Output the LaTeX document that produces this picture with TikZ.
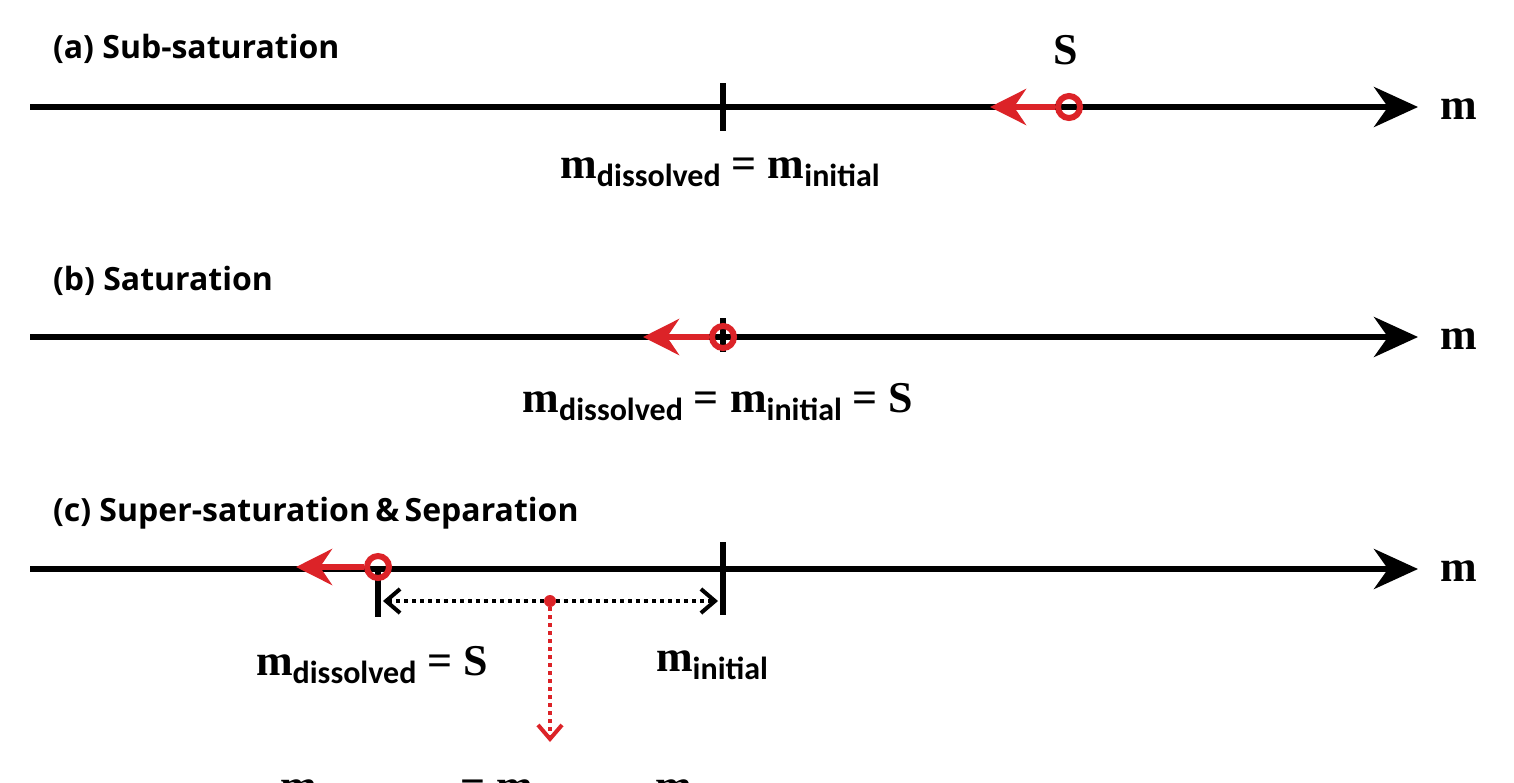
\documentclass[tikz,border=0pt]{standalone}
\usepackage{fontspec}
\setmainfont{Liberation Serif}
\newfontfamily\ttlfont{Open Sans}
\newfontfamily\subfont{Carlito}
\usetikzlibrary{arrows.meta}
\definecolor{rd}{RGB}{220,35,40}
\newcommand{\mm}[1]{\textbf{m}{\subfont\bfseries\fontsize{16}{16}\selectfont\raisebox{-0.25em}{#1}}}
\tikzset{
  axis/.style={line width=3pt,-{Stealth[length=22pt,width=20pt,inset=7pt]}},
  tick/.style={line width=3pt},
  ttl/.style={anchor=base west,font=\ttlfont\bfseries\fontsize{16}{16}\selectfont},
  lbl/.style={font=\bfseries\fontsize{22}{22}\selectfont},
  pt/.style={circle,draw=rd,line width=3pt,minimum size=11pt,inner sep=0pt},
  rarr/.style={draw=rd,line width=3pt,-{Stealth[length=18pt,width=18pt,inset=6pt]}},
}
\begin{document}
\begin{tikzpicture}[x=0.5pt,y=-0.5pt]
\clip (0,0) rectangle (1514,782);
\useasboundingbox (0,0) rectangle (1514,782);
% (a)
\node[ttl] (ta) at (46,58) {(a) Sub-saturation};
\coordinate (a0) at (30,107); \coordinate (a1) at (1418,107);
\draw[axis] (a0) -- (a1);
\node[lbl,anchor=west] (ma) at (1433,109) {m};
\coordinate (at1) at (723,83); \coordinate (at2) at (723,131);
\draw[tick] (at1) -- (at2);
\node[lbl] (la) at (720,172) {\mm{dissolved} = \mm{initial}};
\node[pt] (pa) at (1069,107) {};
\coordinate (ea) at (990,107);
\draw[rarr] (pa) -- (ea);
\node[lbl] (sa) at (1066,50) {S};
% (b)
\node[ttl] (tb) at (46,290) {(b) Saturation};
\coordinate (b0) at (30,337); \coordinate (b1) at (1418,337);
\draw[axis] (b0) -- (b1);
\node[lbl,anchor=west] (mb) at (1433,339) {m};
\coordinate (bt1) at (723,318); \coordinate (bt2) at (723,352);
\draw[tick] (bt1) -- (bt2);
\node[pt] (pb) at (723,337) {};
\coordinate (eb) at (643,337);
\draw[rarr] (pb) -- (eb);
\node[lbl] (lb) at (718,402) {\mm{dissolved} = \mm{initial} = S};
% (c)
\node[ttl] (tc) at (46,521) {(c) Super-saturation\,\&\,Separation};
\coordinate (c0) at (30,569); \coordinate (c1) at (1418,569);
\draw[axis] (c0) -- (c1);
\node[lbl,anchor=west] (mc) at (1433,571) {m};
\coordinate (ct1) at (723,542); \coordinate (ct2) at (723,615);
\draw[tick] (ct1) -- (ct2);
\coordinate (cs1) at (378,569); \coordinate (cs2) at (378,617);
\draw[tick] (cs1) -- (cs2);
\node[pt] (pc) at (378,567) {};
\coordinate (ec) at (296,567);
\draw[rarr] (pc) -- (ec);
\coordinate (dl) at (383,601); \coordinate (dr) at (718,601);
\draw[line width=2pt,dotted,{Straight Barb[length=7pt,width=12pt]}-{Straight Barb[length=7pt,width=12pt]}] (dl) -- (dr);
\node[circle,fill=rd,inner sep=0pt,minimum size=6pt] (rdot) at (550,601) {};
\coordinate (rdn) at (550,742);
\draw[rd,line width=2pt,dotted,-{Straight Barb[length=7pt,width=12pt]}] (rdot) -- (rdn);
\node[lbl] (lc1) at (372,665) {\mm{dissolved} = S};
\node[lbl] (lc2) at (712,665) {\mm{initial}};
\node[lbl] (lsep) at (548,797) {\mm{separated} = \mm{initial} − \mm{dissolved}};
\end{tikzpicture}
\end{document}
